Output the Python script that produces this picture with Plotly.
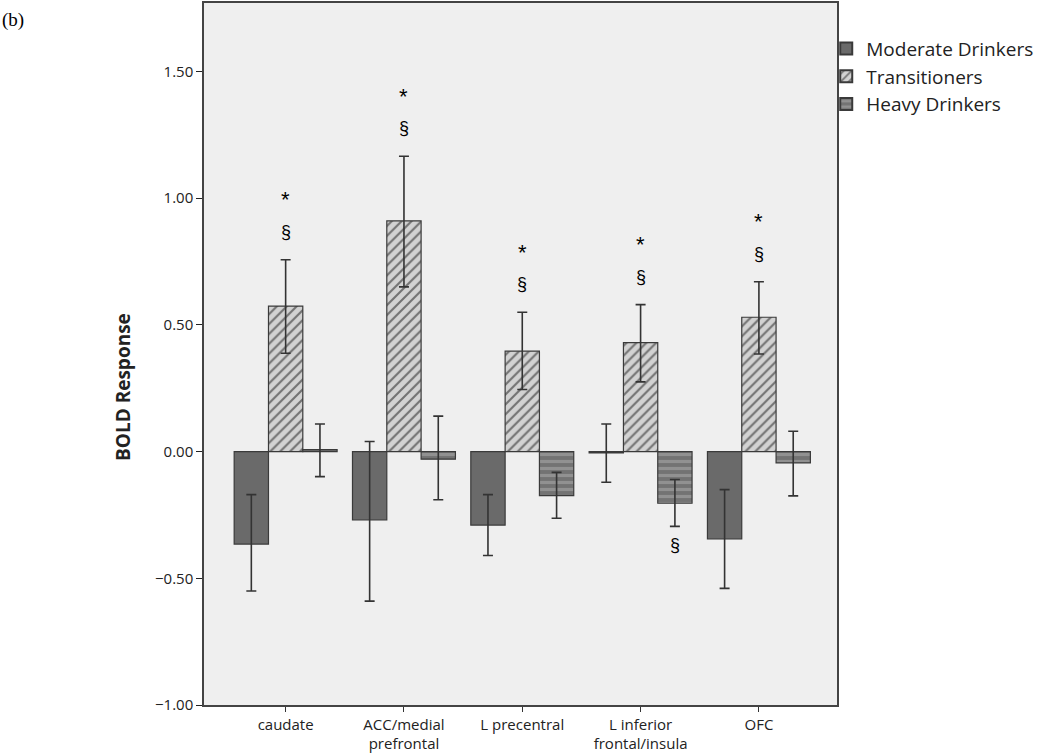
import plotly.graph_objects as go

categories = ["caudate", "ACC/medial<br>prefrontal", "L precentral",
              "L inferior<br>frontal/insula", "OFC"]

moderate = [-0.365, -0.27, -0.29, -0.005, -0.345]
moderate_hi = [-0.17, 0.04, -0.17, 0.109, -0.15]
moderate_lo = [-0.55, -0.59, -0.41, -0.121, -0.54]

transition = [0.574, 0.91, 0.396, 0.43, 0.53]
transition_hi = [0.757, 1.165, 0.55, 0.58, 0.67]
transition_lo = [0.388, 0.65, 0.245, 0.275, 0.385]

heavy = [0.008, -0.03, -0.174, -0.204, -0.045]
heavy_hi = [0.109, 0.14, -0.082, -0.11, 0.08]
heavy_lo = [-0.099, -0.19, -0.263, -0.295, -0.175]

y_ticks = [-1.0, -0.5, 0.0, 0.5, 1.0, 1.5]


def errs(v, hi, lo):
    return [h - x for x, h in zip(v, hi)], [x - l for x, l in zip(v, lo)]


fig = go.Figure()

series = [
    ("Moderate Drinkers", moderate, moderate_hi, moderate_lo,
     dict(color="#6a6a6a", line=dict(color="#3a3a3a", width=1.2))),
    ("Transitioners", transition, transition_hi, transition_lo,
     dict(color="#d2d2d2", line=dict(color="#3a3a3a", width=1.2),
          pattern=dict(shape="/", fgcolor="#111111", size=7, solidity=0.3, fillmode="overlay"))),
    ("Heavy Drinkers", heavy, heavy_hi, heavy_lo,
     dict(color="#737373", line=dict(color="#3a3a3a", width=1.2),
          pattern=dict(shape="-", fgcolor="#b0b0b0", size=7, solidity=0.45, fillmode="overlay"))),
]

for name, v, hi, lo, marker in series:
    up, down = errs(v, hi, lo)
    fig.add_trace(go.Bar(
        name=name, x=categories, y=v, marker=marker,
        error_y=dict(type="data", symmetric=False, array=up, arrayminus=down,
                     color="#333333", thickness=1.6, width=5),
    ))

annotations = []
for i, c in enumerate(categories):
    annotations.append(dict(x=c, y=transition_hi[i], xref="x", yref="y", text="*",
                            showarrow=False, yshift=60, font=dict(size=22, color="black",
                                                                   family="Liberation Sans")))
    annotations.append(dict(x=c, y=transition_hi[i], xref="x", yref="y", text="§",
                            showarrow=False, yshift=28, font=dict(size=18, color="black",
                                                                   family="Liberation Sans")))
annotations.append(dict(x=categories[3], y=heavy_lo[3], xref="x", yref="y", text="§",
                        showarrow=False, yshift=-19, xshift=34,
                        font=dict(size=18, color="black", family="Liberation Sans")))
annotations.append(dict(x=-0.322, y=0.976, xref="paper", yref="paper", text="(b)",
                        showarrow=False, xanchor="left", yanchor="middle",
                        font=dict(size=19, color="black", family="Liberation Serif")))
annotations.append(dict(x=-0.128, y=0.453, xref="paper", yref="paper",
                        text="<b>BOLD Response</b>", textangle=-90, showarrow=False,
                        xanchor="center", yanchor="middle",
                        font=dict(size=19, color="#222222", family="Open Sans")))

fig.update_layout(
    width=1050, height=755,
    margin=dict(l=204, r=213, t=3, b=50, autoexpand=False),
    paper_bgcolor="white", plot_bgcolor="#efefef",
    barmode="group", bargap=0.13, bargroupgap=0,
    font=dict(family="Open Sans", size=15, color="#222222"),
    showlegend=True,
    legend=dict(x=0.983, y=0.962, xanchor="left", yanchor="top",
                font=dict(size=19, color="#222222"), tracegroupgap=0,
                bgcolor="rgba(0,0,0,0)", itemsizing="constant"),
    annotations=annotations,
)
fig.update_xaxes(range=[-0.69, 4.66], showline=True, linecolor="#444444", linewidth=1.5,
                 mirror=True, ticks="outside", ticklen=5, tickcolor="#333333",
                 showgrid=False, tickfont=dict(size=15), automargin=False)
fig.update_yaxes(range=[-1.0, 1.77], tickvals=y_ticks, tickformat=".2f",
                 showline=True, linecolor="#444444", linewidth=1.5, mirror=True,
                 ticks="outside", ticklen=6, tickcolor="#222222",
                 showgrid=False, zeroline=False, tickfont=dict(size=15), automargin=False)

fig.write_html("out.html", config={"displayModeBar": False},
               post_script="document.body.style.margin='0';document.body.style.overflow='hidden';")
